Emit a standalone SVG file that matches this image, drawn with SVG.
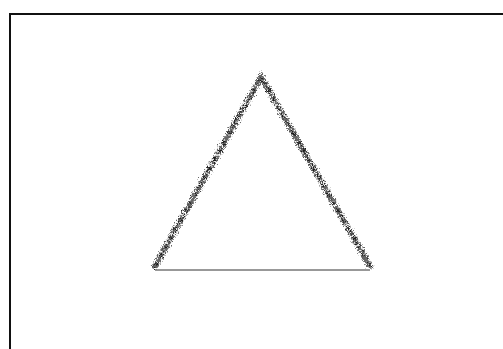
<svg xmlns="http://www.w3.org/2000/svg" width="503" height="349" viewBox="0 0 503 349">
  <defs>
    <filter id="rough" x="-10%" y="-10%" width="120%" height="120%">
      <feTurbulence type="fractalNoise" baseFrequency="0.7" numOctaves="2" seed="5" result="n"/>
      <feDisplacementMap in="SourceGraphic" in2="n" scale="8" xChannelSelector="R" yChannelSelector="G"/>
    </filter>
  </defs>
  <style>
    .frame { stroke: #111; stroke-width: 2; fill: none; }
    .side { stroke: #666; stroke-width: 6; fill: none; stroke-dasharray: 3 1 2 1; }
    .side2 { stroke: #1a1a1a; stroke-width: 3; fill: none; stroke-dasharray: 1 2 2 1 1 3; }
    .base { stroke: #333; stroke-width: 1; fill: none; }
  </style>
  <rect width="503" height="349" fill="#fff"/>
  <g id="frame">
    <line class="frame" x1="9" y1="14" x2="503" y2="14"/>
    <line class="frame" x1="10" y1="13" x2="10" y2="349"/>
  </g>
  <g id="triangle">
    <g filter="url(#rough)">
      <polyline class="side" points="154,268 261,77 371,268"/>
      <polyline class="side2" points="154,268 261,77 371,268"/>
    </g>
    <line class="base" x1="155" y1="270" x2="370" y2="270"/>
  </g>
</svg>
